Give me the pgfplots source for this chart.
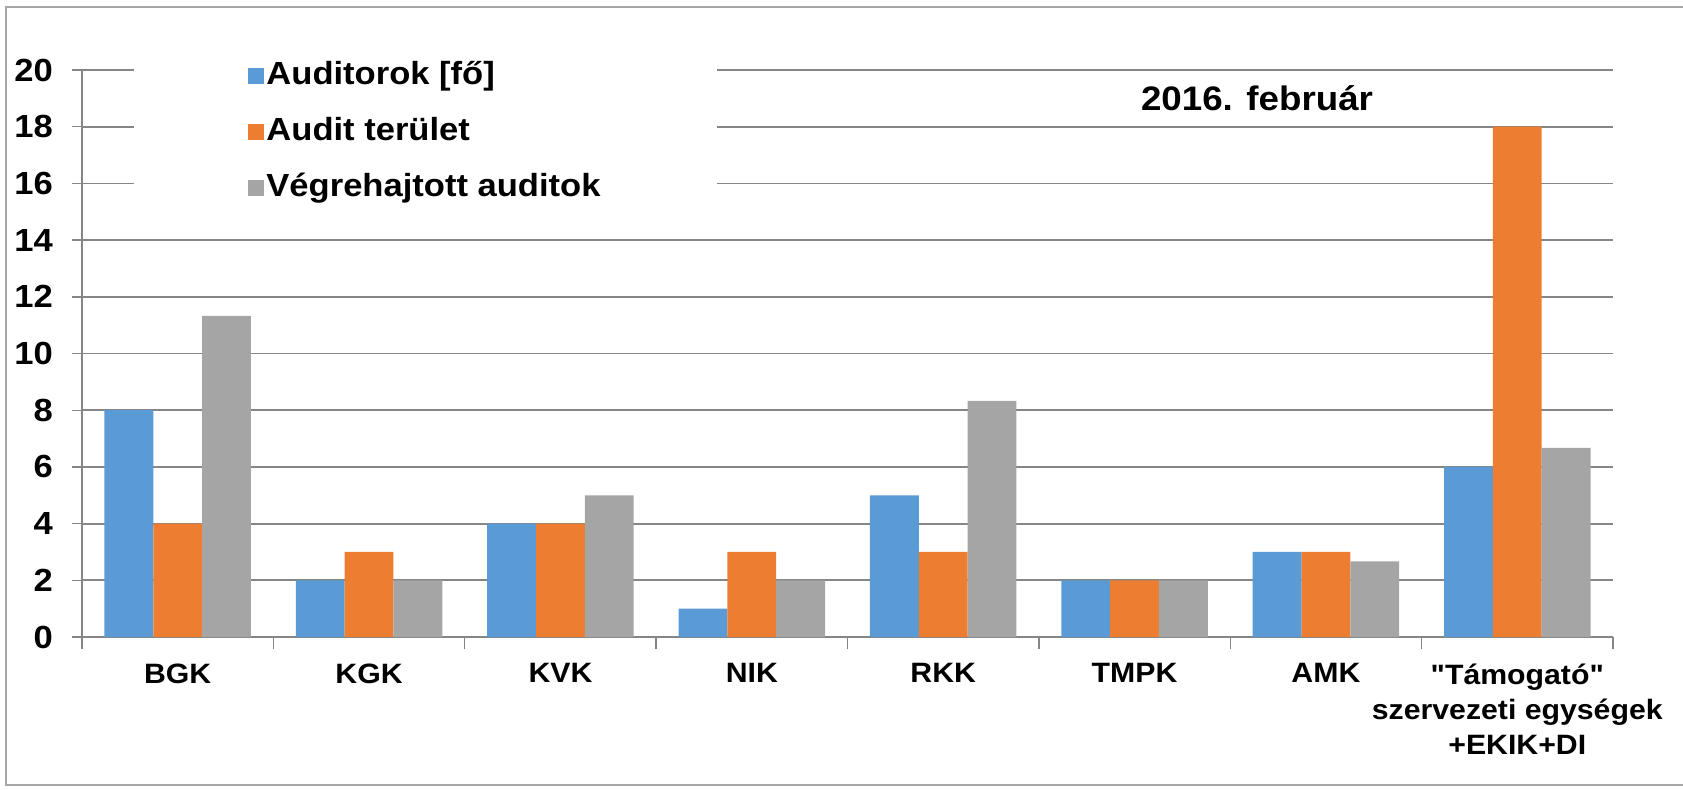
\documentclass[border=0pt]{standalone}
\usepackage{fontspec}
\setmainfont{Liberation Sans}[Ligatures=TeXOff, FakeStretch=1.08]
\usepackage{pgfplots}
\pgfplotsset{compat=1.18}
\definecolor{cblue}{HTML}{5B9BD5}
\definecolor{corange}{HTML}{ED7D31}
\definecolor{cgray}{HTML}{A5A5A5}
\definecolor{gridc}{HTML}{868686}
\pgfplotsset{sqleg/.style={legend image code/.code={\fill[##1] (0pt,-4pt) rectangle (8pt,4pt);}}}
\begin{document}
\begin{tikzpicture}
\useasboundingbox (-41pt,-76pt) rectangle (800.5pt,318.5pt);
\draw[color=gray!70, line width=0.6pt] (805pt,-74pt) -- (-38pt,-74pt) -- (-38pt,315pt) -- (805pt,315pt);
\begin{axis}[
  at={(0,0)}, anchor=south west,
  scale only axis, width=765.5pt, height=283.5pt,
  xmin=-0.5, xmax=7.5, ymin=0, ymax=20,
  ybar=0pt, bar width=24.4pt,
  axis x line=bottom, axis y line=left,
  axis line style={-, draw=gridc, line width=0.7pt},
  ytick={0,2,...,20}, ymajorgrids,
  grid style={draw=gridc, line width=0.9pt},
  tick align=outside, major tick length=5pt, minor tick length=6pt,
  tick style={draw=gridc, line width=0.7pt},
  xtick={0,...,7},
  minor xtick={-0.5,0.5,...,7.5},
  major x tick style={draw=none},
  xticklabels={BGK,KGK,KVK,NIK,RKK,TMPK,AMK,{"Támogató"\\szervezeti egységek\\+EKIK+DI}},
  xticklabel style={font=\bfseries\fontsize{14}{17.5}\selectfont, align=center, yshift=-4.8pt},
  yticklabel style={font=\bfseries\fontsize{16}{16}\selectfont, xshift=-6pt},
  /pgf/number format/assume math mode=true,
  legend cell align=left,
  legend style={at={(0.034,1.049)}, anchor=north west, draw=none, fill=white,
    inner xsep=57pt, inner ysep=8pt, row sep=11pt,
    font=\bfseries\fontsize{16}{16}\selectfont,
    nodes={text height=12pt, text depth=3pt, inner sep=1pt}},
]
\addplot[fill=cblue, draw=none, sqleg] coordinates {(0,8)(1,2)(2,4)(3,1)(4,5)(5,2)(6,3)(7,6)};
\addplot[fill=corange, draw=none, sqleg] coordinates {(0,4)(1,3)(2,4)(3,3)(4,3)(5,2)(6,3)(7,18)};
\addplot[fill=cgray, draw=none, sqleg] coordinates {(0,11.33)(1,2)(2,5)(3,2)(4,8.33)(5,2)(6,2.67)(7,6.67)};
\legend{Auditorok [fő],Audit terület,Végrehajtott auditok}
\node[font=\bfseries\fontsize{17}{17}\selectfont] at (axis cs:5.64,19.0) {2016. február};
\end{axis}
\end{tikzpicture}
\end{document}
